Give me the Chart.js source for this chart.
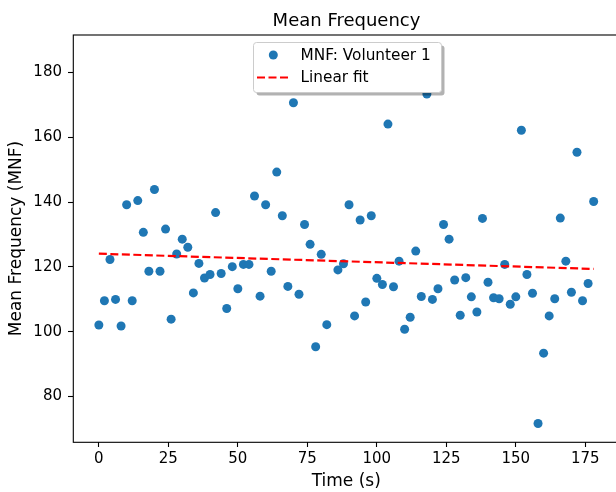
<!DOCTYPE html>
<html>
<head>
<meta charset="utf-8">
<title>Mean Frequency</title>
<script src="https://cdn.jsdelivr.net/npm/chart.js@4.4.0/dist/chart.umd.min.js"></script>
<style>
  html, body { margin: 0; padding: 0; background: #fff; overflow: hidden; }
  #wrap { width: 624px; height: 492px; }
</style>
</head>
<body>
<div id="wrap"><canvas id="mnfChart" width="624" height="492"></canvas></div>
<script>
// ---- values ----
const timeS = [0, 2, 4, 6, 8, 10, 12, 14, 16, 18, 20, 22, 24, 26, 28, 30, 32, 34, 36, 38,
    40, 42, 44, 46, 48, 50, 52, 54, 56, 58, 60, 62, 64, 66, 68, 70, 72, 74, 76, 78,
    80, 82, 84, 86, 88, 90, 92, 94, 96, 98, 100, 102, 104, 106, 108, 110, 112, 114, 116, 118,
    120, 122, 124, 126, 128, 130, 132, 134, 136, 138, 140, 142, 144, 146, 148, 150, 152, 154, 156, 158,
    160, 162, 164, 166, 168, 170, 172, 174, 176, 178];
const mnf = [102.1, 109.6, 122.3, 110.0, 101.8, 139.2, 109.6, 140.5, 130.7, 118.7,
    143.9, 118.7, 131.7, 103.9, 124.0, 128.6, 126.1, 112.0, 121.1, 116.6,
    117.7, 136.8, 118.0, 107.2, 120.1, 113.3, 120.8, 120.8, 141.9, 111.0,
    139.2, 118.7, 149.3, 135.8, 114.0, 170.7, 111.6, 133.1, 127.0, 95.4,
    123.9, 102.2, 185.9, 119.1, 121.0, 139.2, 104.9, 134.5, 109.2, 135.8,
    116.5, 114.6, 164.1, 113.9, 121.8, 100.8, 104.5, 124.9, 110.9, 173.4,
    110.0, 113.3, 133.1, 128.6, 116.0, 105.1, 116.7, 110.8, 106.1, 135.0,
    115.3, 110.5, 110.2, 120.8, 108.5, 110.8, 162.2, 117.7, 111.9, 71.7,
    93.4, 104.9, 110.2, 135.1, 121.8, 112.2, 155.4, 109.6, 114.9, 140.2];
const fitTime = [0, 178];
const fitMnf = [124.1, 119.4];
const xTicks = [0, 25, 50, 75, 100, 125, 150, 175];
const yTicks = [80, 100, 120, 140, 160, 180];

const FONT = 'DejaVu Sans';

// frame, title and an in-axes legend the way matplotlib draws them
const mplDecor = {
    id: 'mplDecor',
    afterDraw(chart){
        const ctx = chart.ctx;
        const a = chart.chartArea;
        ctx.save();
        // spines
        ctx.strokeStyle = '#000';
        ctx.lineWidth = 1.1;
        ctx.strokeRect(a.left + 0.3, a.top, a.right - a.left, a.bottom - a.top + 0.3);

        // title
        ctx.fillStyle = '#000';
        ctx.font = '18px "' + FONT + '"';
        ctx.textAlign = 'center';
        ctx.textBaseline = 'alphabetic';
        ctx.fillText('Mean Frequency', 346.5, 26);

        // legend box with shadow
        const bx = 253.5, by = 42.5, bw = 188, bh = 50;
        ctx.fillStyle = 'rgba(0,0,0,0.3)';
        ctx.beginPath(); ctx.roundRect(bx + 3, by + 3, bw, bh, 3); ctx.fill();
        ctx.fillStyle = '#fff';
        ctx.strokeStyle = '#ccc';
        ctx.lineWidth = 1;
        ctx.beginPath(); ctx.roundRect(bx, by, bw, bh, 3); ctx.fill(); ctx.stroke();

        const ds = chart.data.datasets;
        // scatter entry
        ctx.fillStyle = ds[0].backgroundColor;
        ctx.beginPath(); ctx.arc(273.3, 55, 4.5, 0, Math.PI * 2); ctx.fill();
        // line entry
        ctx.strokeStyle = ds[1].borderColor;
        ctx.lineWidth = ds[1].borderWidth;
        ctx.setLineDash(ds[1].borderDash);
        ctx.beginPath(); ctx.moveTo(257, 77.5); ctx.lineTo(289, 77.5); ctx.stroke();
        ctx.setLineDash([]);

        ctx.fillStyle = '#000';
        ctx.font = '15.3px "' + FONT + '"';
        ctx.textAlign = 'left';
        ctx.fillText(ds[0].label, 300.5, 60);
        ctx.fillText(ds[1].label, 300.5, 82);
        ctx.restore();
    }
};

const tickFont = {family: FONT, size: 15};
const labelFont = {family: FONT, size: 17};

new Chart(document.getElementById('mnfChart'), {
    type: 'scatter',
    data: {
        datasets: [
            {
                label: 'MNF: Volunteer 1',
                data: timeS.map((t, i) => ({x: t, y: mnf[i]})),
                backgroundColor: '#1f77b4',
                borderColor: '#1f77b4',
                borderWidth: 0,
                pointRadius: 4.5,
                pointHoverRadius: 4.5,
                order: 1
            },
            {
                type: 'line',
                label: 'Linear fit',
                data: fitTime.map((t, i) => ({x: t, y: fitMnf[i]})),
                borderColor: '#ff0000',
                borderWidth: 2.2,
                borderDash: [8, 3.5],
                pointRadius: 0,
                fill: false,
                order: 0
            }
        ]
    },
    options: {
        responsive: false,
        animation: false,
        events: [],
        devicePixelRatio: 1,
        layout: {padding: {top: 35, right: 3, bottom: 0, left: 0}},
        plugins: {legend: {display: false}, title: {display: false}, tooltip: {enabled: false}},
        scales: {
            x: {
                type: 'linear', min: -9.3, max: 187.3,
                afterFit: s => { s.height = 50; },
                afterBuildTicks: s => { s.ticks = xTicks.map(v => ({value: v})); },
                grid: {drawOnChartArea: false, drawTicks: true, tickLength: 5, tickColor: '#000', tickWidth: 1.1},
                border: {display: false},
                ticks: {padding: 3, color: '#000', font: tickFont, maxRotation: 0, autoSkip: false},
                title: {display: true, text: 'Time (s)', color: '#000', font: labelFont, padding: {top: 0, bottom: 0}}
            },
            y: {
                type: 'linear', min: 65.99, max: 191.6,
                afterFit: s => { s.width = 73; },
                afterBuildTicks: s => { s.ticks = yTicks.map(v => ({value: v})); },
                grid: {drawOnChartArea: false, drawTicks: true, tickLength: 5, tickColor: '#000', tickWidth: 1.1},
                border: {display: false},
                ticks: {padding: 6, color: '#000', font: tickFont, autoSkip: false},
                title: {display: true, text: 'Mean Frequency (MNF)', color: '#000', font: labelFont, padding: {top: 6, bottom: 0}}
            }
        }
    },
    plugins: [mplDecor]
});
</script>
</body>
</html>
